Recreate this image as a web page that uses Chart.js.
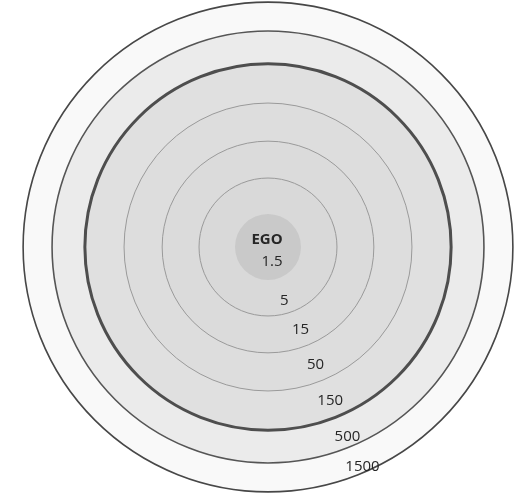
<!DOCTYPE html>
<html>
<head>
<meta charset="utf-8">
<script src="https://cdn.jsdelivr.net/npm/chart.js@4"></script>
<style>
  body { margin: 0; background: #fff; }
  canvas { display: block; }
</style>
</head>
<body>
<canvas id="katmanlar" width="517" height="500"></canvas>
<script>
// ===============================
// DATA – layers
// ===============================
const layerLabels = ["1.5", "5", "15", "50", "150", "500", "1500"];
// how far out each layer reaches on the radial scale (0..7)
const layerReach = [0.935, 1.955, 3.0, 4.08, 5.19, 6.12, 6.94];
const layerFill = ["#c9c9c9", "#d9d9d9", "#dbdbdb", "#dddddd", "#e0e0e0", "#ebebeb", "#f9f9f9"];
const ringColor = ["rgba(0,0,0,0)", "#9a9a9a", "#9a9a9a", "#9a9a9a", "#4e4e4e", "#555555", "#474747"];
const ringWidth = [0, 1, 1, 1, 3, 1.6, 1.6];

// label placement inside each ring (degrees from straight down, px in from the ring)
const labelAngle = [0, 17, 21.5, 22, 22, 22.7, 23.3];
const labelInset = [0, 13, 17, 17, 17, 10, 6];

// ===============================
// LABELS ON TOP OF THE RINGS
// ===============================
const ringLabels = {
  id: "ringLabels",
  afterDraw(chart) {
    const r = chart.scales.r;
    const ctx = chart.ctx;
    const cx = r.xCenter, cy = r.yCenter;
    ctx.save();
    ctx.fillStyle = "#262626";
    ctx.textAlign = "center";
    ctx.textBaseline = "middle";

    ctx.font = "bold 15px 'Open Sans'";
    ctx.fillText("EGO", cx - 1, cy - 7);
    ctx.font = "15px 'Open Sans'";
    ctx.fillText(layerLabels[0], cx + 4, cy + 15);

    for (let i = 1; i < layerLabels.length; i++) {
      const ang = labelAngle[i] * Math.PI / 180;
      const d = r.getDistanceFromCenterForValue(layerReach[i]) - labelInset[i];
      ctx.fillText(layerLabels[i], cx + Math.sin(ang) * d, cy + Math.cos(ang) * d);
    }
    ctx.restore();
  }
};

// ===============================
// CHART
// ===============================
new Chart(document.getElementById("katmanlar"), {
  type: "polarArea",
  data: {
    labels: ["layer"],
    datasets: layerReach.map((v, i) => ({
      label: layerLabels[i],
      data: [v],
      backgroundColor: layerFill[i],
      borderWidth: 0
    }))
  },
  options: {
    responsive: false,
    animation: false,
    events: [],
    layout: { padding: { left: 21, right: 2, top: 0, bottom: 6 } },
    plugins: {
      legend: { display: false },
      tooltip: { enabled: false }
    },
    scales: {
      r: {
        min: 0,
        max: 7,
        ticks: { display: false },
        afterBuildTicks: scale => {
          scale.ticks = [{ value: 0 }].concat(layerReach.map(v => ({ value: v })));
        },
        grid: {
          z: 1, // rings over the fills
          circular: true,
          color: c => ringColor[c.index - 1],
          lineWidth: c => ringWidth[c.index - 1]
        }
      }
    }
  },
  plugins: [ringLabels]
});
console.log("chart drawn");
</script>
</body>
</html>
